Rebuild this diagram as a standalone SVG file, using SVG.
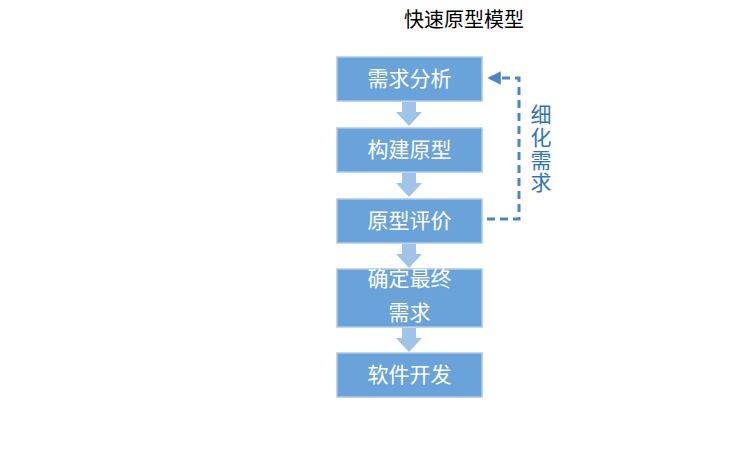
<svg xmlns="http://www.w3.org/2000/svg" width="738" height="465" viewBox="0 0 738 465">
<style>
.box{fill:#6aa3da;stroke:#a9c9ea;stroke-width:1.5}
.bt{font-family:"Liberation Sans","Noto Sans CJK SC",sans-serif;font-size:21px;fill:#fff;text-anchor:middle}
.ar{fill:#9fc4e8}
.dash{fill:none;stroke:#4a86c8;stroke-width:3;stroke-dasharray:8,5}
</style>
<defs>
<marker id="ah" viewBox="0 0 10 10" refX="8" refY="5" markerWidth="4.5" markerHeight="4.5" orient="auto"><path d="M0,0 L10,5 L0,10 z" fill="#4a86c8"/></marker>
</defs>
<rect width="738" height="465" fill="#fff"/>
<text x="464" y="27" font-family="Liberation Sans,'Noto Sans CJK SC',sans-serif" font-size="20" text-anchor="middle" fill="#000">快速原型模型</text>
<g id="connectors">
<path class="ar" d="M402,102 H416 V112 H422 L409,126 L396,112 H402 Z"/>
<path class="ar" d="M402,173 H416 V183 H422 L409,197 L396,183 H402 Z"/>
<path class="ar" d="M402,244 H416 V254 H422 L409,268 L396,254 H402 Z"/>
<path class="ar" d="M402,328 H416 V338 H422 L409,352 L396,338 H402 Z"/>
<path class="dash" d="M487,219 H519 V78 H490" marker-end="url(#ah)"/>
<text font-family="Liberation Sans,'Noto Sans CJK SC',sans-serif" font-size="21" fill="#2e75b6" text-anchor="middle"><tspan x="541" y="122">细</tspan><tspan x="541" y="145">化</tspan><tspan x="541" y="168">需</tspan><tspan x="541" y="190">求</tspan></text>
</g>
<g id="n1"><rect class="box" x="337" y="57" width="145" height="44"/><text class="bt" x="409.5" y="86">需求分析</text></g>
<g id="n2"><rect class="box" x="337" y="128" width="145" height="44"/><text class="bt" x="409.5" y="157">构建原型</text></g>
<g id="n3"><rect class="box" x="337" y="199" width="145" height="44"/><text class="bt" x="409.5" y="228">原型评价</text></g>
<g id="n4"><rect class="box" x="337" y="269" width="145" height="58"/><text class="bt" x="409.5" y="286">确定最终</text><text class="bt" x="409.5" y="320">需求</text></g>
<g id="n5"><rect class="box" x="337" y="353" width="145" height="44"/><text class="bt" x="409.5" y="382">软件开发</text></g>
</svg>
